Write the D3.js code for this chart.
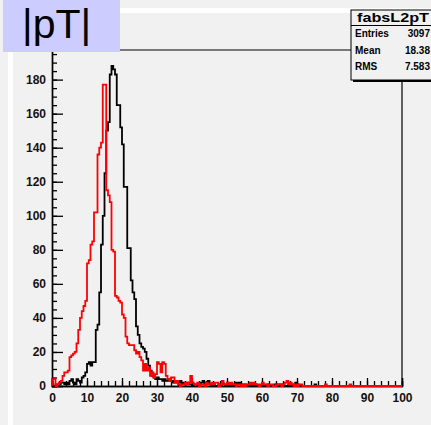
<!DOCTYPE html>
<html>
<head>
<meta charset="utf-8">
<script src="https://cdn.jsdelivr.net/npm/d3@7"></script>
<style>
  html, body { margin: 0; padding: 0; background: #f1f1f1; }
  svg { display: block; }
</style>
</head>
<body>
<svg id="chart" width="431" height="425"></svg>
<script>
// Histogram definition: 200 bins of width 0.5 over [0, 100]
const histName = "fabsL2pT";
const titleText = "|pT|";
const xRange = [0, 100];
const binWidth = 0.5;
const yMax = 197.4;
const xMajorTicks = [0, 10, 20, 30, 40, 50, 60, 70, 80, 90, 100];
const yMajorTicks = [0, 20, 40, 60, 80, 100, 120, 140, 160, 180];
const statLabels = ["Entries", "Mean", "RMS"];
const statValues = ["3097", "18.38", "7.583"];

// bin contents, one row per 10 units of x
const countsBlack = [
  0,0,1,0,1,2,2,1,2,1,3,4,2,1,4,3,2,5,6,8,
  13,14,12,14,14,33,36,55,83,100,125,150,155,183,188,186,183,165,165,152,
  142,117,117,81,81,62,55,51,35,30,25,23,22,20,16,12,9,6,5,4,
  5,4,4,3,4,3,3,4,3,2,3,2,2,3,1,2,1,2,1,1,
  0,1,1,0,1,2,3,1,2,3,1,0,1,0,0,1,0,2,1,0,
  0,1,0,0,1,2,1,2,1,0,1,0,0,1,0,0,1,0,0,0,
  1,0,0,1,0,0,0,1,1,1,0,1,0,0,0,1,0,0,1,2,
  1,0,0,0,0,0,0,0,0,0,1,0,0,0,0,0,0,0,0,0,
  0,0,0,0,0,0,0,0,0,0,0,0,0,0,0,0,0,0,0,0,
  0,0,0,0,0,0,0,0,0,0,0,0,0,0,0,0,0,0,0,0
];
const countsRed = [
  4,4,0,1,2,3,6,8,8,9,17,18,19,20,25,33,40,44,47,50,
  72,74,83,85,102,102,136,140,143,177,177,115,112,108,80,79,53,52,50,49,
  42,40,29,25,24,24,24,21,19,20,17,15,9,13,9,11,6,8,5,7,
  14,13,8,14,13,6,4,3,5,5,2,3,1,0,1,1,2,1,2,6,
  2,1,1,2,0,1,1,0,2,1,1,2,1,2,2,0,1,3,1,1,
  2,1,2,1,1,0,1,1,0,1,0,1,1,2,1,2,1,1,0,1,
  2,1,1,0,1,1,0,0,1,1,1,0,1,2,3,1,2,1,0,1,
  0,1,1,0,0,0,0,0,0,0,0,0,0,0,0,0,1,0,0,0,
  0,0,0,0,0,0,0,0,0,0,1,0,0,0,0,0,0,0,0,0,
  0,0,0,0,0,0,0,0,0,0,0,0,0,0,0,0,0,0,0,0
];

const svg = d3.select("#chart");
const W = 431, H = 425;
const frame = { left: 52, right: 402, top: 50, bottom: 386 };
const FONT = "'Liberation Sans', Arial, Helvetica, sans-serif";

// canvas and pad bevel
svg.append("rect").attr("width", W).attr("height", H).attr("fill", "#f1f1f1");
svg.append("rect").attr("x", 8).attr("y", 8).attr("width", 5).attr("height", H - 8).attr("fill", "#ffffff");
svg.append("rect").attr("x", 8).attr("y", 8).attr("width", W - 8).attr("height", 5).attr("fill", "#ffffff");

const x = d3.scaleLinear().domain(xRange).range([frame.left, frame.right]);
const y = d3.scaleLinear().domain([0, yMax]).range([frame.bottom, frame.top]);

// frame border (top and right)
svg.append("path")
  .attr("d", `M${frame.left},${frame.top}H${frame.right}V${frame.bottom}`)
  .attr("fill", "none").attr("stroke", "#000").attr("stroke-width", 1.2);

function styleAxis(g) {
  g.select(".domain").attr("stroke", "#000").attr("stroke-width", 1.4);
  g.selectAll(".tick line").attr("stroke", "#000").attr("stroke-width", 1.3);
  g.selectAll("text")
    .attr("font-family", FONT).attr("font-weight", "bold")
    .attr("font-size", 12).attr("fill", "#111");
}

// x axis: minor ticks every 2, major every 10, ticks pointing into the frame
svg.append("g").attr("transform", `translate(0,${frame.bottom})`)
  .call(d3.axisBottom(x).tickValues(d3.range(0, 101, 2)).tickSize(-5).tickFormat(""))
  .call(styleAxis);
svg.append("g").attr("transform", `translate(0,${frame.bottom})`)
  .call(d3.axisBottom(x).tickValues(xMajorTicks).tickSize(-8).tickPadding(7).tickFormat(d3.format("d")))
  .call(styleAxis);

// y axis: minor ticks every 5, major every 20
svg.append("g").attr("transform", `translate(${frame.left},0)`)
  .call(d3.axisLeft(y).tickValues(d3.range(0, 196, 5)).tickSize(-5).tickFormat(""))
  .call(styleAxis);
svg.append("g").attr("transform", `translate(${frame.left},0)`)
  .call(d3.axisLeft(y).tickValues(yMajorTicks).tickSize(-11).tickPadding(6).tickFormat(d3.format("d")))
  .call(styleAxis);

// step outline of a histogram
function stepPoints(counts) {
  const pts = [[xRange[0], 0]];
  counts.forEach((c, i) => {
    const lo = xRange[0] + i * binWidth;
    pts.push([lo, c], [lo + binWidth, c]);
  });
  pts.push([xRange[1], 0]);
  return pts;
}
const line = d3.line().x(d => x(d[0])).y(d => y(d[1]));

svg.append("path").attr("d", line(stepPoints(countsBlack)))
  .attr("fill", "none").attr("stroke", "#000").attr("stroke-width", 1.8)
  .attr("stroke-linejoin", "miter");
svg.append("path").attr("d", line(stepPoints(countsRed)))
  .attr("fill", "none").attr("stroke", "#ff0000").attr("stroke-width", 1.8)
  .attr("stroke-linejoin", "miter");

// statistics box
const sb = svg.append("g");
sb.append("rect").attr("x", 353).attr("y", 12).attr("width", 90).attr("height", 70).attr("fill", "#000");
sb.append("rect").attr("x", 351).attr("y", 10).attr("width", 90).attr("height", 70)
  .attr("fill", "#f1f1f1").attr("stroke", "#000").attr("stroke-width", 1);
sb.append("line").attr("x1", 351).attr("x2", 441).attr("y1", 25.5).attr("y2", 25.5)
  .attr("stroke", "#000").attr("stroke-width", 1);
sb.append("text").attr("x", 357).attr("y", 21.5).text(histName)
  .attr("font-family", FONT).attr("font-weight", "bold").attr("font-size", 12)
  .attr("textLength", 72).attr("lengthAdjust", "spacingAndGlyphs");
const rowY = [37, 53.5, 70];
statLabels.forEach((s, i) => {
  sb.append("text").attr("x", 355).attr("y", rowY[i]).text(s)
    .attr("font-family", FONT).attr("font-weight", "bold").attr("font-size", 10);
  sb.append("text").attr("x", 430).attr("y", rowY[i]).text(statValues[i])
    .attr("text-anchor", "end")
    .attr("font-family", FONT).attr("font-weight", "bold").attr("font-size", 10);
});

// title box
svg.append("rect").attr("x", 3).attr("y", 0).attr("width", 117).attr("height", 52).attr("fill", "#ccccff");
svg.append("text").attr("x", 22).attr("y", 37.5).text(titleText)
  .attr("font-family", FONT).attr("font-size", 41).attr("fill", "#000");
</script>
</body>
</html>
